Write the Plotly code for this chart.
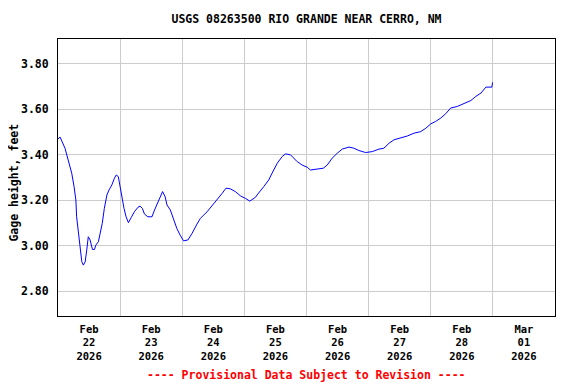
import datetime as dt
import plotly.graph_objects as go

# ---- data (hours since 2026-02-22 00:00, gage height in feet) ----
hours = [0.0, 0.8, 2.7, 4.0, 5.3, 6.2, 6.9, 7.2, 7.9, 8.5, 9.2, 9.8, 10.5, 11.1, 11.7,
         12.4, 13.3, 14.1, 14.6, 15.6, 16.3, 17.1, 17.9, 18.9, 19.7, 20.8, 21.8, 22.5,
         23.3, 24.0, 24.7, 25.5, 26.3, 27.2, 28.3, 29.5, 30.9, 31.7, 32.6, 33.4, 34.7,
         36.3, 37.3, 38.4, 39.5, 40.4, 41.4, 42.1, 43.4, 44.6, 45.9, 47.2, 48.5, 50.2,
         51.8, 53.7, 55.0, 57.6, 59.5, 62.1, 63.4, 64.9, 66.6, 68.5, 70.5, 72.4, 74.1,
         76.3, 76.9, 79.5, 81.4, 82.7, 84.7, 86.6, 87.9, 89.8, 91.1, 92.4, 94.3, 96.3,
         97.5, 100.1, 102.5, 104.0, 105.9, 107.9, 109.8, 112.4, 114.3, 116.2, 118.8,
         121.4, 124.0, 125.9, 127.9, 129.8, 132.4, 135.0, 137.5, 140.1, 142.1, 144.0,
         145.9, 147.9, 149.8, 151.7, 154.3, 156.9, 159.5, 161.4, 163.4, 165.3, 167.6,
         167.9]
gage = [3.470, 3.478, 3.429, 3.370, 3.319, 3.260, 3.201, 3.127, 3.046, 2.980, 2.929,
        2.914, 2.929, 2.980, 3.039, 3.025, 2.983, 2.983, 3.002, 3.017, 3.054, 3.098,
        3.164, 3.223, 3.245, 3.267, 3.297, 3.311, 3.304, 3.260, 3.208, 3.164, 3.127,
        3.101, 3.124, 3.149, 3.169, 3.174, 3.164, 3.139, 3.127, 3.127, 3.157, 3.186,
        3.215, 3.238, 3.215, 3.179, 3.157, 3.113, 3.076, 3.046, 3.021, 3.025, 3.054,
        3.095, 3.120, 3.149, 3.174, 3.208, 3.230, 3.253, 3.250, 3.238, 3.219, 3.208,
        3.196, 3.213, 3.223, 3.260, 3.289, 3.319, 3.363, 3.392, 3.404, 3.400, 3.385,
        3.370, 3.355, 3.345, 3.333, 3.338, 3.341, 3.355, 3.385, 3.407, 3.425, 3.434,
        3.429, 3.419, 3.410, 3.414, 3.425, 3.429, 3.451, 3.466, 3.473, 3.483, 3.495,
        3.502, 3.517, 3.536, 3.547, 3.562, 3.581, 3.606, 3.613, 3.625, 3.639, 3.657,
        3.672, 3.698, 3.698, 3.719]

start = dt.datetime(2026, 2, 22)
times = [start + dt.timedelta(hours=h) for h in hours]

tick_days = ["2026-02-22", "2026-02-23", "2026-02-24", "2026-02-25",
             "2026-02-26", "2026-02-27", "2026-02-28", "2026-03-01"]
tick_labels = ["Feb<br>22<br>2026", "Feb<br>23<br>2026", "Feb<br>24<br>2026",
               "Feb<br>25<br>2026", "Feb<br>26<br>2026", "Feb<br>27<br>2026",
               "Feb<br>28<br>2026", "Mar<br>01<br>2026"]
y_ticks = [2.80, 3.00, 3.20, 3.40, 3.60, 3.80]

title = "USGS 08263500 RIO GRANDE NEAR CERRO, NM"
y_title = "Gage height, feet"
note = "---- Provisional Data Subject to Revision ----"

FONT = "DejaVu Sans Mono"

tick_noon = [dt.datetime.fromisoformat(d) + dt.timedelta(hours=12) for d in tick_days]

fig = go.Figure()
fig.add_trace(go.Scatter(x=times, y=gage, mode="lines",
                         line=dict(color="#0000FF", width=1), hoverinfo="skip",
                         showlegend=False))

# page body has an ~8px default margin, so the figure is sized to fit after it
fig.update_layout(
    width=568, height=376,
    margin=dict(l=50, r=21, t=31, b=68),
    paper_bgcolor="white", plot_bgcolor="white",
    title=dict(text=title, xref="paper", x=0.5, xanchor="center",
               yref="container", y=1 - 11 / 376, yanchor="middle",
               font=dict(family=FONT, size=11.5, color="black", weight="bold")),
    font=dict(family=FONT, size=11.5, color="black"),
)

fig.update_xaxes(
    range=[start, start + dt.timedelta(days=8)],
    tickmode="array", tickvals=tick_noon, ticktext=tick_labels,
    tickfont=dict(family=FONT, size=10.5, color="black", weight="bold"),
    ticks="", ticklabelstandoff=3, showgrid=False, zeroline=False, automargin=False,
    minor=dict(tick0="2026-02-22", dtick=86400000, showgrid=True,
               gridcolor="#cccccc", gridwidth=1, ticks=""),
    showline=True, linecolor="black", linewidth=1, mirror=True,
)
fig.update_yaxes(
    range=[2.69, 3.91],
    tickmode="array", tickvals=y_ticks, tickformat=".2f",
    tickfont=dict(family=FONT, size=11.5, color="black", weight="bold"),
    ticks="", ticklabelstandoff=6, automargin=False,
    showgrid=True, gridcolor="#cccccc", gridwidth=1, zeroline=False,
    showline=True, linecolor="black", linewidth=1, mirror=True,
)

# y-axis title
fig.add_annotation(text=y_title, xref="paper", yref="paper", x=-0.0875, y=0.48,
                   xanchor="center", yanchor="middle", textangle=-90, showarrow=False,
                   font=dict(family=FONT, size=11.5, color="black", weight="bold"))

fig.add_annotation(text=note, xref="paper", yref="paper", x=0.5, y=-0.213,
                   xanchor="center", yanchor="middle", showarrow=False,
                   font=dict(family=FONT, size=11.5, color="#FF0000", weight="bold"))

fig.write_html("out.html")
